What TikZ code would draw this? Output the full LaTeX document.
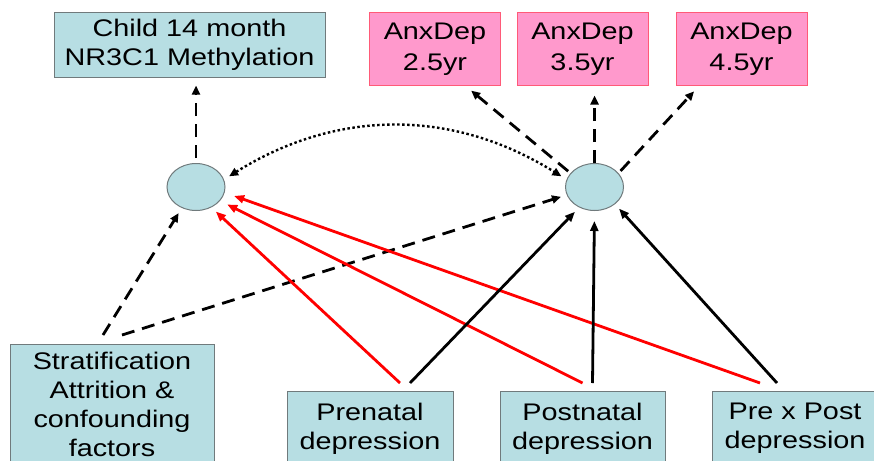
\documentclass[tikz,border=0pt]{standalone}
\usepackage{fontspec}
\setmainfont[FakeStretch=1.2]{Liberation Sans}
\usetikzlibrary{arrows.meta,shapes.geometric}
\definecolor{boxblue}{RGB}{183,222,227}
\definecolor{boxline}{RGB}{112,122,124}
\definecolor{pinkfill}{RGB}{255,153,204}
\definecolor{pinkline}{RGB}{255,90,120}
\begin{document}
\begin{tikzpicture}[x=1pt,y=-1pt,
	bluebox/.style={draw=boxline,fill=boxblue,line width=1pt,align=center,inner sep=0pt,font=\fontsize{24}{29}\selectfont},
	pinkbox/.style={draw=pinkline,fill=pinkfill,line width=1pt,align=center,inner sep=0pt,minimum width=131pt,minimum height=72pt,font=\fontsize{24}{31}\selectfont},
	latent/.style={ellipse,draw=boxline,fill=boxblue,line width=1pt,minimum width=58pt,minimum height=47pt,inner sep=0pt},
	dasharr/.style={-{Triangle[length=9pt,width=8pt]},line width=2.8pt,dash pattern=on 13pt off 8pt},
	redarr/.style={-{Triangle[length=10pt,width=8pt]},red,line width=2.8pt},
	blackarr/.style={-{Triangle[length=10pt,width=8pt]},black,line width=2.8pt},
	dotarr/.style={{Triangle[length=9pt,width=8pt]}-{Triangle[length=9pt,width=8pt]},line width=2.4pt,dash pattern=on 2.5pt off 2.5pt}]
				\useasboundingbox (0,0) rectangle (874,460);
				\clip (0,0) rectangle (874,460);
				\node[bluebox,minimum width=271pt,minimum height=64pt] (child) at (189.5,45) {Child 14 month\\NR3C1 Methylation};
				\node[pinkbox] (a25) at (435,49) {AnxDep\\2.5yr};
				\node[pinkbox] (a35) at (582.5,49) {AnxDep\\3.5yr};
				\node[pinkbox] (a45) at (741.5,49) {AnxDep\\4.5yr};
				\node[latent] (lel) at (196,187) {};
				\node[latent] (rel) at (594.5,187) {};
				\node[bluebox,anchor=north,minimum width=204pt,minimum height=120pt] (strat) at (112,344) {Stratification\\Attrition \&\\confounding\\factors};
				\node[bluebox,anchor=north,minimum width=166pt,minimum height=74pt] (pre) at (370,391) {Prenatal\\depression};
				\node[bluebox,anchor=north,minimum width=165pt,minimum height=74pt] (post) at (582.5,391) {Postnatal\\depression};
				\node[bluebox,anchor=north,minimum width=166pt,minimum height=74pt] (prepost) at (795,391) {Pre x Post\\depression};
				\draw[dasharr,shorten <=5pt,shorten >=8pt] (lel.north) -- (lel.north |- child.south);
				\draw[dasharr,shorten <=3pt,shorten >=8pt] (rel.150) -- ([xshift=30pt]a25.south);
				\draw[dasharr,shorten >=10pt] (rel.north) -- (rel.north |- a35.south);
				\draw[dasharr,shorten <=3pt,shorten >=8pt] (rel.30) -- ([xshift=-42pt]a45.south);
				\draw[dotarr,shorten <=6pt,shorten >=6pt] (lel.15) to[bend left=32] (rel.165);
				\draw[dasharr,shorten >=6pt] ([xshift=-9pt,yshift=9pt]strat.north) -- (lel.-124);
				\draw[dasharr,shorten >=6pt] ([xshift=10pt,yshift=9pt]strat.north) -- (rel.-164);
				\draw[redarr,shorten >=6pt] ([xshift=30pt,yshift=8pt]pre.north) -- (lel.-53);
				\draw[redarr,shorten >=8pt] ([xshift=0pt,yshift=8pt]post.north) -- (lel.-30);
				\draw[redarr,shorten >=10pt] ([xshift=-35pt,yshift=8pt]prepost.north) -- (lel.-11);
				\draw[blackarr,shorten >=6pt] ([xshift=40pt,yshift=8pt]pre.north) -- (rel.-127);
				\draw[blackarr,shorten >=10pt] ([xshift=10pt,yshift=8pt]post.north) -- (rel.south);
				\draw[blackarr,shorten >=6pt] ([xshift=-18pt,yshift=8pt]prepost.north) -- (rel.-40);
			\end{tikzpicture}
\end{document}
